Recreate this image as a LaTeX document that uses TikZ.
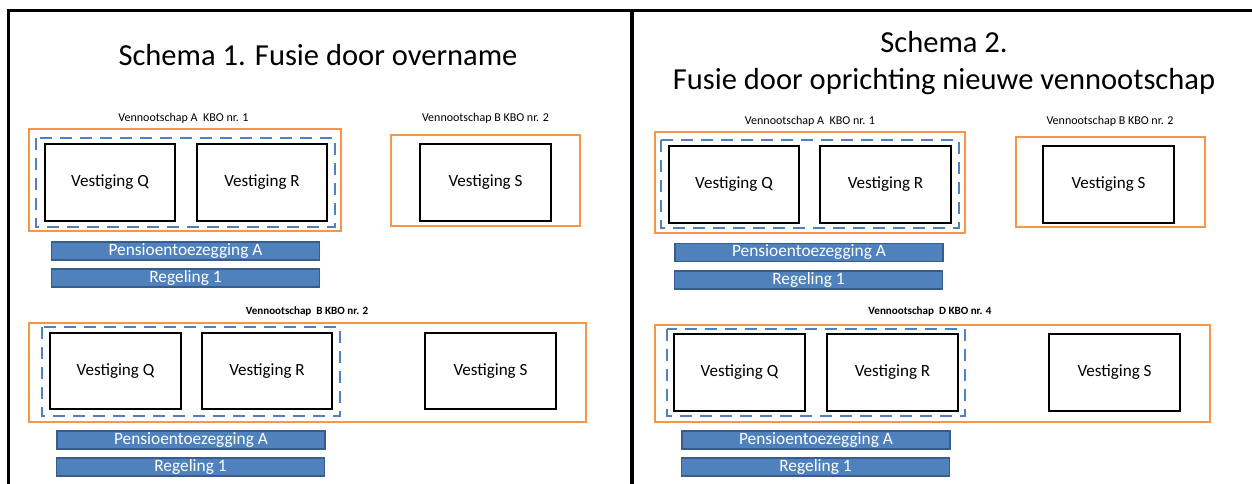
\documentclass[tikz,border=0pt]{standalone}
\usepackage{fontspec}
\setmainfont{Carlito}

\definecolor{kaderoranje}{RGB}{247,150,70}
\definecolor{groepblauw}{RGB}{79,129,189}
\definecolor{balkblauw}{RGB}{79,129,189}
\definecolor{balkrand}{RGB}{56,93,138}

\tikzset{every picture/.style={line width=0.75pt}}
\tikzset{
	vestiging/.style={draw, line width=1.3pt, minimum width=98pt, minimum height=57.5pt, inner sep=0pt, font=\fontsize{12.8}{14}\selectfont},
	balk/.style={draw=balkrand, fill=balkblauw, line width=0.8pt, minimum width=201pt, minimum height=13.5pt, inner sep=0pt, text=white, font=\fontsize{13}{14}\selectfont},
	kader/.style={draw=kaderoranje, line width=1.4pt},
	groep/.style={draw=groepblauw, line width=1.4pt, dash pattern=on 9pt off 6pt},
	vnaam/.style={inner sep=0pt, font=\fontsize{9}{10}\selectfont},
	vnaamvet/.style={inner sep=0pt, font=\fontsize{8.3}{10}\selectfont\bfseries},
	titel/.style={inner sep=0pt, font=\fontsize{22.9}{27}\selectfont},
}

\begin{document}
\begin{tikzpicture}[x=0.75pt,y=0.75pt,yscale=-1,xscale=1]
	\useasboundingbox (0,0) rectangle (1252,484);
	\clip (0,0) rectangle (1252,484);

	%Straight Lines: panel borders
	\draw [line width=1.6pt] (8.5,500) |- (1260,10.5) ;
	\draw [line width=3.6pt] (632,10.5) -- (632,500) ;

	% Text Node
	\node (titel1) [titel, anchor=base] at (318,66) {Schema 1. Fusie door overname};
	% Text Node
	\node (titel2a) [titel, anchor=base] at (944,53) {Schema 2.};
	% Text Node
	\node (titel2b) [titel, anchor=base] at (944,90) {Fusie door oprichting nieuwe vennootschap};

	%--- Schema 1, voor de fusie
	%Shape: Rectangle
	\draw [kader] (29,129) rectangle (341,231) ;
	%Shape: Rectangle
	\draw [groep] (36,138) rectangle (335,227) ;
	%Shape: Rectangle
	\draw [kader] (391,135) rectangle (580,226) ;
	\node (a1q) [vestiging] at (110,182.5) {Vestiging Q};
	\node (a1r) [vestiging] at (262,182.5) {Vestiging R};
	\node (b1s) [vestiging] at (485.5,182.5) {Vestiging S};
	% Text Node
	\node (va1) [vnaam] at (183.5,118) {Vennootschap A\ \ KBO nr. 1};
	% Text Node
	\node (vb1) [vnaam] at (485.5,118) {Vennootschap B KBO nr. 2};
	\node (pa1) [balk] at (185.5,251) {Pensioentoezegging A};
	\node (rg1) [balk] at (185.5,278) {Regeling 1};

	%--- Schema 1, na de fusie
	%Shape: Rectangle
	\draw [kader] (29,323) rectangle (586,422) ;
	%Shape: Rectangle
	\draw [groep] (42,327) rectangle (340,416) ;
	\node (n1q) [vestiging] at (115.5,371) {Vestiging Q};
	\node (n1r) [vestiging] at (267,371) {Vestiging R};
	\node (n1s) [vestiging] at (490.5,371) {Vestiging S};
	% Text Node
	\node (vn1) [vnaamvet] at (307,311) {Vennootschap\ \ B KBO nr. 2};
	\node (pn1) [balk] at (191,440) {Pensioentoezegging A};
	\node (rn1) [balk] at (190.5,467) {Regeling 1};

	%--- Schema 2, voor de fusie
	%Shape: Rectangle
	\draw [kader] (655,132) rectangle (965,233) ;
	%Shape: Rectangle
	\draw [groep] (661,140) rectangle (959,228) ;
	%Shape: Rectangle
	\draw [kader] (1016,137) rectangle (1205,227) ;
	\node (a2q) [vestiging] at (734,184.5) {Vestiging Q};
	\node (a2r) [vestiging] at (885.5,184.5) {Vestiging R};
	\node (b2s) [vestiging] at (1108.5,184.5) {Vestiging S};
	% Text Node
	\node (va2) [vnaam] at (810,121) {Vennootschap A\ \ KBO nr. 1};
	% Text Node
	\node (vb2) [vnaam] at (1110,121) {Vennootschap B KBO nr. 2};
	\node (pa2) [balk] at (809,252.5) {Pensioentoezegging A};
	\node (rg2) [balk] at (808.5,280) {Regeling 1};

	%--- Schema 2, na de fusie
	%Shape: Rectangle
	\draw [kader] (655,325) rectangle (1210,422) ;
	%Shape: Rectangle
	\draw [groep] (667,329) rectangle (965,416) ;
	\node (n2q) [vestiging] at (739.5,372.5) {Vestiging Q};
	\node (n2r) [vestiging] at (892.5,372.5) {Vestiging R};
	\node (n2s) [vestiging] at (1114.5,372.5) {Vestiging S};
	% Text Node
	\node (vn2) [vnaamvet] at (930,311) {Vennootschap\ \ D KBO nr. 4};
	\node (pn2) [balk] at (816,440) {Pensioentoezegging A};
	\node (rn2) [balk] at (815.5,467) {Regeling 1};

\end{tikzpicture}
\end{document}
